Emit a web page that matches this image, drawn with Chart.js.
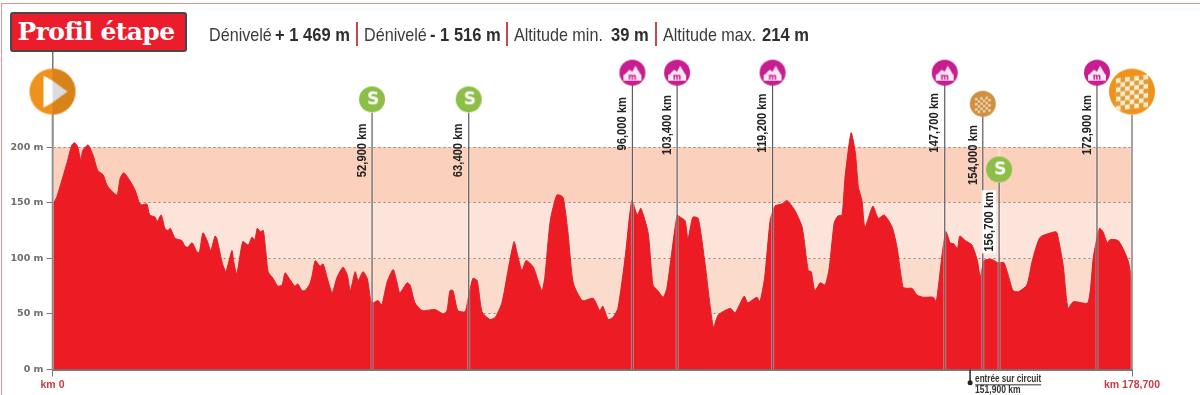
<!DOCTYPE html>
<html lang="fr">
<head>
<meta charset="utf-8">
<title>Profil étape</title>
<script src="https://cdn.jsdelivr.net/npm/chart.js@4"></script>
<style>
  body { margin: 0; background: #fff; }
  #wrap { position: relative; width: 1200px; height: 395px; overflow: hidden; }
  #frame { position: absolute; left: 1px; top: 3px; right: 0; bottom: 0; border-top: 1.5px solid #ee8e95; border-left: 1.5px solid #ee8e95; }
  canvas { position: absolute; left: 0; top: 0; }
  #badge { position: absolute; left: 10px; top: 12px; width: 173px; height: 36px; background: #ec1c2c; border: 2px solid #48484a; border-radius: 3px;
    color: #fff; font: bold 25px "DejaVu Serif", serif; line-height: 36px; text-align: center; letter-spacing: -0.6px; text-indent: -5px; }
  .stat { position: absolute; top: 24px; font: 19px "Liberation Sans", sans-serif; color: #3b3b3d; white-space: nowrap; line-height: 22px; transform-origin: left center; transform: scaleX(0.85); }
  .stat.num { font-weight: bold; color: #2e2e30; transform: scaleX(0.87); }
  .sep { position: absolute; top: 22px; width: 2px; height: 24px; background: #c8474c; }
</style>
</head>
<body>
<div id="wrap">
  <div id="frame"></div>
  <canvas id="profil" width="1200" height="395"></canvas>
  <div id="badge">Profil étape</div>
  <span class="stat" style="left:209px">Dénivelé</span>
  <span class="stat num" style="left:275px">+ 1 469 m</span>
  <div class="sep" style="left:356px"></div>
  <span class="stat" style="left:364px">Dénivelé</span>
  <span class="stat num" style="left:430px">- 1 516 m</span>
  <div class="sep" style="left:506px"></div>
  <span class="stat" style="left:514px">Altitude min.</span>
  <span class="stat num" style="left:611px">39 m</span>
  <div class="sep" style="left:655px"></div>
  <span class="stat" style="left:663px">Altitude max.</span>
  <span class="stat num" style="left:762px">214 m</span>
</div>
<script>
// profile: km from start, altitude in m
const kmPoints = [0,0.7,2.4,3.2,3.7,4.2,4.7,5.0,5.9,6.7,7.5,8.4,9.0,9.9,10.7,11.2,11.8,12.8,13.7,14.3,14.8,15.6,16.1,17.0,17.3,18.0,18.6,19.1,19.5,20.3,21.4,21.9,22.4,23.1,23.9,24.3,24.9,25.6,26.2,26.9,27.2,28.1,28.7,29.7,30.0,30.5,31.5,32.4,33.0,33.5,33.9,34.4,34.9,35.3,35.7,36.5,37.3,38.0,38.5,39.3,40.1,40.6,41.3,41.8,42.6,43.0,43.5,44.3,44.8,45.6,46.3,47.1,48.1,48.8,49.3,50.1,50.6,51.4,52.1,52.7,53.1,53.9,54.5,55.4,56.4,57.0,57.5,58.7,59.2,60.0,61.2,63.3,64.7,65.3,65.8,66.3,67.1,68.3,68.8,69.6,70.3,71.1,72.4,73.3,74.4,75.4,76.4,76.9,77.7,78.4,79.6,81.0,81.5,82.4,83.5,84.5,85.3,86.2,87.7,89.5,90.6,91.1,92.0,92.8,93.6,94.8,95.9,96.8,97.4,98.6,99.4,100.2,101.1,101.7,102.5,103.4,103.9,104.7,105.2,106.0,106.9,108.0,109.4,110.2,112.2,113.0,114.5,115.1,116.6,117.1,117.9,118.8,119.6,120.8,121.6,122.9,124.1,125.1,125.6,126.2,127.1,127.9,128.6,129.4,130.0,130.7,131.2,132.2,132.9,133.4,134.0,134.5,135.8,136.7,137.7,139.0,139.8,140.8,141.5,142.3,143.1,144.1,145.8,146.3,147.3,147.9,148.6,149.2,149.8,150.2,151.1,152.2,153.1,153.6,154.2,155.5,156.5,157.5,158.2,159.0,159.9,161.3,162.2,163.5,166.0,166.3,167.3,168.1,169.0,171.4,172.3,173.3,173.9,174.6,175.1,176.4,177.2,178.1,178.7];
const altitudes = [148,155,186,202,204,200,188,197,202,193,179,175,166,160,157,172,177,170,161,151,148,149,139,137,133,139,127,125,127,118,116,111,110,114,106,105,123,116,107,120,118,96,88,107,97,86,115,112,119,117,127,124,125,107,88,82,75,76,87,81,75,77,71,71,77,85,98,93,95,80,69,83,92,85,71,88,80,88,82,62,60,62,58,79,90,79,69,78,76,60,53,54,50,53,71,71,53,52,64,82,80,52,45,47,60,89,115,105,89,98,92,71,83,134,157,155,125,78,62,64,53,57,45,47,55,101,152,139,145,123,76,71,65,73,105,139,137,134,118,137,136,96,38,49,55,51,66,60,65,61,83,134,147,149,152,143,128,89,88,71,78,76,92,132,138,139,173,213,195,164,152,128,147,136,139,128,110,74,73,73,67,65,65,61,105,124,114,113,109,120,116,112,98,83,98,99,96,96,85,71,70,76,98,119,124,123,94,55,61,60,101,127,124,114,117,116,109,97,80];

const altitudeTicks = [0, 50, 100, 150, 200];
const kmTicks = [0, 178.7];
const bandLimits = [[0, 50], [50, 100], [100, 150], [150, 200]];
const bandColors = ['#fde3d8', '#fbdccc', '#fde4da', '#fbd0bd'];

// pins: position on the axis, top of the pole, icon centre, km label, foot of the label
const pinKm = [0, 52.9, 68.9, 96, 103.4, 119.2, 147.7, 154, 156.7, 172.9, 178.7];
const pinTop = [229, 231, 231, 256, 256, 256, 256, 228, 168, 256, 229];
const pinIconAlt = [250, 243, 243, 267, 267, 267, 267, 239, 180, 267, 250];
const pinKind = ['start', 'sprint', 'sprint', 'climb', 'climb', 'climb', 'climb', 'lap', 'sprint', 'climb', 'finish'];
const pinText = ['', '52,900 km', '63,400 km', '96,000 km', '103,400 km', '119,200 km', '147,700 km', '154,000 km', '156,700 km', '172,900 km', ''];
const pinTextFoot = [0, 173, 173, 197, 193, 195, 195, 166, 106, 193, 0];

const circuitKm = [151.9, 151.9];
const circuitAlt = [0, -12];

function makeIcon(kind) {
  const big = kind === 'start' || kind === 'finish';
  const r = big ? 23 : 13;
  const c = document.createElement('canvas');
  c.width = c.height = r * 2 + 2;
  const g = c.getContext('2d');
  const m = r + 1;
  const fills = { start: '#f0911c', finish: '#f0911c', sprint: '#8cbf45', climb: '#c81d8e', lap: '#cf9040' };
  g.fillStyle = fills[kind];
  g.beginPath(); g.arc(m, m, r, 0, Math.PI * 2); g.fill();
  if (kind === 'start') {
    g.fillStyle = '#d8821a';
    g.beginPath(); g.arc(m, m, r, -Math.PI / 2, Math.PI / 2); g.fill();
    g.fillStyle = '#fff';
    g.beginPath(); g.moveTo(m - 9, m - 16); g.lineTo(m, m - 11); g.lineTo(m, m + 11); g.lineTo(m - 9, m + 16); g.fill();
    g.fillStyle = '#d9dde0';
    g.beginPath(); g.moveTo(m, m - 11); g.lineTo(m + 15, m); g.lineTo(m, m + 11); g.fill();
  } else if (kind === 'sprint') {
    g.fillStyle = '#fff';
    g.font = 'bold 17px "DejaVu Sans"';
    g.textAlign = 'center'; g.textBaseline = 'middle';
    g.fillText('S', m + 1, m + 1);
  } else if (kind === 'climb') {
    g.fillStyle = '#fbe6f3';
    g.beginPath(); g.moveTo(m - 9, m + 3); g.lineTo(m - 3, m - 3); g.lineTo(m, m - 1); g.lineTo(m + 3, m - 7); g.lineTo(m + 9, m + 3); g.fill();
    g.fillRect(m - 9, m + 2, 18, 6);
    g.fillStyle = '#c81d8e';
    g.font = 'bold 8px "DejaVu Sans"';
    g.textAlign = 'center'; g.textBaseline = 'middle';
    g.fillText('m', m, m + 5);
  } else {
    // chequered flag, leaning a little
    const n = big ? 7 : 6, s = big ? 4.6 : 2.6;
    g.save();
    g.translate(m, m);
    g.transform(1, -0.12, 0, 1, 0, 0);
    g.fillStyle = big ? '#fdeecb' : '#f3d6a8';
    g.fillRect(-n * s / 2, -n * s / 2 + 1, n * s, n * s);
    g.fillStyle = big ? '#e09a3c' : '#c4873a';
    for (let i = 0; i < n; i++) {
      for (let j = 0; j < n; j++) {
        if ((i + j) % 2) g.fillRect(-n * s / 2 + i * s, -n * s / 2 + 1 + j * s, s, s);
      }
    }
    g.restore();
  }
  return c;
}

const icons = {};
['start', 'finish', 'sprint', 'climb', 'lap'].forEach(k => { icons[k] = makeIcon(k); });

// peach bands sit behind the grid
const bandsPlugin = {
  id: 'bands',
  beforeDraw(chart) {
    const { ctx, chartArea, scales } = chart;
    bandLimits.forEach((b, i) => {
      const top = scales.y.getPixelForValue(b[1]);
      const bottom = scales.y.getPixelForValue(b[0]);
      ctx.fillStyle = bandColors[i];
      ctx.fillRect(chartArea.left, top, chartArea.right - chartArea.left, bottom - top);
    });
  }
};

const labelsPlugin = {
  id: 'pinLabels',
  afterDatasetsDraw(chart) {
    const { ctx, scales } = chart;
    ctx.save();
    ctx.font = 'bold 13.5px "Liberation Sans", sans-serif';
    pinText.forEach((txt, i) => {
      if (!txt) return;
      const x = scales.x.getPixelForValue(pinKm[i]) - 10;
      const y = scales.y.getPixelForValue(pinTextFoot[i]);
      ctx.save();
      ctx.translate(x, y);
      ctx.rotate(-Math.PI / 2);
      ctx.scale(0.83, 1);
      ctx.textBaseline = 'middle';
      if (pinKind[i] === 'sprint' && pinKm[i] > 150) {
        ctx.fillStyle = '#fff';
        ctx.fillRect(-2, -7, ctx.measureText(txt).width + 4, 14);
      }
      ctx.fillStyle = '#222';
      ctx.fillText(txt, 0, 0);
      ctx.restore();
    });
    // entrée sur circuit note under the axis, points outside the area are not drawn by the line
    const lineX = scales.x.getPixelForValue(circuitKm[0]);
    const cy = scales.y.getPixelForValue(circuitAlt[1]);
    ctx.fillStyle = '#222';
    ctx.beginPath(); ctx.arc(lineX, cy, 2.5, 0, Math.PI * 2); ctx.fill();
    const cx = lineX + 5;
    ctx.fillStyle = '#333';
    ctx.textBaseline = 'middle';
    ctx.save();
    ctx.translate(cx, cy);
    ctx.scale(0.74, 1);
    ctx.font = 'bold 11px "Liberation Sans", sans-serif';
    ctx.fillText('entrée sur circuit', 0, -4);
    ctx.fillRect(0, 1.5, ctx.measureText('entrée sur circuit').width, 1);
    ctx.font = 'bold 11.5px "Liberation Sans", sans-serif';
    ctx.fillText('151,900 km', 0, 7);
    ctx.restore();
    ctx.restore();
  }
};

const poleDatasets = pinKm.map((km, i) => ({
  data: [{ x: km, y: 0 }, { x: km, y: pinTop[i] }],
  borderColor: (pinKind[i] === 'start' || pinKind[i] === 'finish') ? '#8c8c8c' : '#5c5c5e',
  borderWidth: (pinKind[i] === 'start' || pinKind[i] === 'finish') ? 1.6 : 1.2,
  pointRadius: 0,
  clip: false,
  order: 3
}));

// pale edge that the poles leave on the red
const poleHalos = pinKm.map(km => ({
  data: [{ x: km, y: 0 }, { x: km, y: 200 }],
  borderColor: 'rgba(255,255,255,0.35)',
  borderWidth: 3,
  pointRadius: 0,
  order: 4
}));

new Chart(document.getElementById('profil'), {
  type: 'line',
  data: {
    datasets: [
      {
        data: kmPoints.map((km, i) => ({ x: km, y: altitudes[i] })),
        borderColor: '#d9202a',
        borderWidth: 1,
        backgroundColor: '#ed1c24',
        fill: 'origin',
        tension: 0.2,
        pointRadius: 0,
        order: 10
      },
      ...poleHalos,
      ...poleDatasets,
      {
        data: circuitKm.map((km, i) => ({ x: km, y: circuitAlt[i] })),
        borderColor: '#444',
        borderWidth: 1,
        pointRadius: 0,
        clip: false,
        order: 2
      },
      {
        data: pinKm.map((km, i) => ({ x: km, y: pinIconAlt[i] })),
        showLine: false,
        pointStyle: ctx => icons[pinKind[ctx.dataIndex]],
        pointRadius: 13,
        clip: false,
        order: 1
      }
    ]
  },
  options: {
    responsive: false,
    animation: false,
    layout: { padding: { top: 36, right: 68, left: 0, bottom: 0 } },
    plugins: { legend: { display: false }, tooltip: { enabled: false } },
    scales: {
      x: {
        type: 'linear',
        min: 0,
        max: 178.7,
        afterFit: s => { s.height = 25.5; },
        afterBuildTicks: s => { s.ticks = kmTicks.map(v => ({ value: v })); },
        border: { color: '#77777a', width: 2 },
        grid: { drawOnChartArea: false, tickLength: 7, tickColor: '#77777a' },
        ticks: {
          autoSkip: false,
          maxRotation: 0,
          padding: 2,
          color: '#cf3a45',
          font: { family: 'Liberation Sans', weight: 'bold', size: 10.5 },
          callback: v => 'km ' + (v === 0 ? '0' : v.toFixed(3).replace('.', ','))
        }
      },
      y: {
        min: 0,
        max: 300,
        afterFit: s => { s.width = 52.5; },
        afterBuildTicks: s => { s.ticks = altitudeTicks.map(v => ({ value: v })); },
        border: { color: '#77777a', width: 1.5, dash: [2, 3] },
        grid: { color: '#8f8378', lineWidth: 1, tickLength: 6, tickColor: '#77777a', tickBorderDash: [] },
        ticks: {
          padding: 3,
          color: '#6d6e71',
          font: { family: 'DejaVu Sans', weight: 'bold', size: 9.5 },
          callback: v => v + ' m'
        }
      }
    }
  },
  plugins: [bandsPlugin, labelsPlugin]
});
</script>
</body>
</html>
